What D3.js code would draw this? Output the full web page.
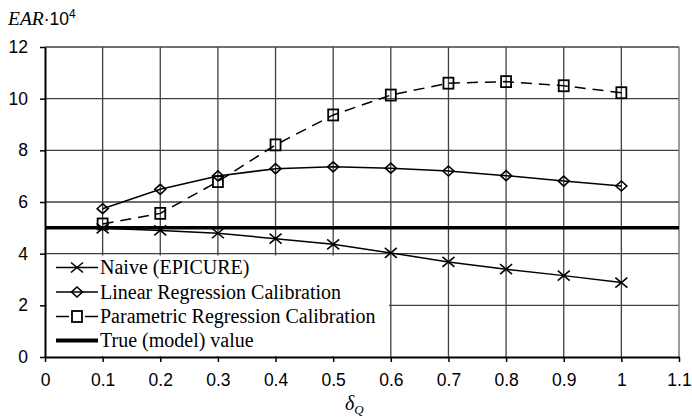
<!DOCTYPE html>
<html><head><meta charset="utf-8">
<script src="https://cdn.jsdelivr.net/npm/d3@7"></script>
<style>
body{margin:0;background:#fff}svg{display:block}
.serif{font-family:"Liberation Serif","Times New Roman","DejaVu Serif",serif}
.sans{font-family:"Liberation Sans",Arial,"DejaVu Sans",sans-serif}
</style>
</head><body><svg id="c" width="692" height="419"></svg>
<script>
const deltaQ = [0.1, 0.2, 0.3, 0.4, 0.5, 0.6, 0.7, 0.8, 0.9, 1.0];
const naive = [4.98, 4.90, 4.79, 4.58, 4.36, 4.03, 3.68, 3.40, 3.15, 2.88];
const linearRC = [5.74, 6.49, 7.01, 7.29, 7.36, 7.31, 7.20, 7.02, 6.81, 6.62];
const parametricRC = [5.15, 5.56, 6.79, 8.21, 9.37, 10.14, 10.60, 10.66, 10.50, 10.23];
const trueValue = 5;
const xTicks = [0, 0.1, 0.2, 0.3, 0.4, 0.5, 0.6, 0.7, 0.8, 0.9, 1, 1.1];
const yTicks = [0, 2, 4, 6, 8, 10, 12];
const seriesNames = ["Naive (EPICURE)", "Linear Regression Calibration", "Parametric Regression Calibration", "True (model) value"];

const svg = d3.select("#c");
const x = d3.scaleLinear().domain([0, 1.1]).range([45, 679]);
const y = d3.scaleLinear().domain([0, 12]).range([357, 47]);
const gridColor = "#404040";

// grid
const grid = svg.append("g");
grid.selectAll("line.h").data(yTicks.filter(d => d > 0)).join("line")
  .attr("x1", x(0)).attr("x2", x(1.1)).attr("y1", d => y(d)).attr("y2", d => y(d))
  .attr("stroke", gridColor).attr("stroke-width", 1.3);
grid.selectAll("line.v").data(xTicks.filter(d => d > 0)).join("line")
  .attr("x1", d => x(d)).attr("x2", d => x(d)).attr("y1", y(12)).attr("y2", y(0))
  .attr("stroke", d => d === 1.1 ? "#666" : gridColor).attr("stroke-width", 1.3);

// legend background (covers grid)
const lg = svg.append("g");
lg.append("rect").attr("x", 46.5).attr("y", 255.5).attr("width", 342.5).attr("height", 100.5).attr("fill", "#fff");

// axes
const fmt = d => String(d);
const xAxis = svg.append("g").attr("transform", `translate(0,${y(0)})`)
  .call(d3.axisBottom(x).tickValues(xTicks).tickFormat(fmt).tickSize(5).tickSizeOuter(0).tickPadding(12));
const yAxis = svg.append("g").attr("transform", `translate(${x(0)},0)`)
  .call(d3.axisLeft(y).tickValues(yTicks).tickFormat(fmt).tickSize(5).tickSizeOuter(0).tickPadding(12));
[xAxis, yAxis].forEach(a => {
  a.attr("font-family", null).attr("font-size", null);
  a.select(".domain").attr("stroke", "#000").attr("stroke-width", 2);
  a.selectAll(".tick line").attr("stroke", "#000").attr("stroke-width", 1.5);
  a.selectAll(".tick text").attr("class", "sans").style("font-size", "17.5px").attr("fill", "#000");
});

// series
const line = d3.line().x(d => x(d[0])).y(d => y(d[1]));
const zip = arr => deltaQ.map((d, i) => [d, arr[i]]);
const sw = 1.5;

svg.append("path").datum(zip(naive)).attr("d", line).attr("fill", "none").attr("stroke", "#000").attr("stroke-width", sw);
svg.append("path").datum(zip(linearRC)).attr("d", line).attr("fill", "none").attr("stroke", "#000").attr("stroke-width", sw);
svg.append("path").datum(zip(parametricRC)).attr("d", line).attr("fill", "none").attr("stroke", "#000").attr("stroke-width", sw).attr("stroke-dasharray", "11,7");
svg.append("line").attr("x1", x(0)).attr("x2", x(1.1)).attr("y1", y(trueValue)).attr("y2", y(trueValue))
  .attr("stroke", "#000").attr("stroke-width", 3.5);

function cross(g, cx, cy) {
  g.append("path").attr("d", `M${cx-6},${cy-5}L${cx+6},${cy+5}M${cx-6},${cy+5}L${cx+6},${cy-5}`)
    .attr("stroke", "#000").attr("stroke-width", 1.6).attr("fill", "none");
}
function diamond(g, cx, cy) {
  g.append("path").attr("d", `M${cx},${cy-5}L${cx+5.5},${cy}L${cx},${cy+5}L${cx-5.5},${cy}Z`)
    .attr("stroke", "#000").attr("stroke-width", 1.6).attr("fill", "none");
}
function square(g, cx, cy) {
  g.append("rect").attr("x", cx - 5).attr("y", cy - 5.5).attr("width", 10).attr("height", 11)
    .attr("stroke", "#000").attr("stroke-width", 1.8).attr("fill", "none");
}
const mk = svg.append("g");
zip(naive).forEach(d => cross(mk, x(d[0]), y(d[1])));
zip(linearRC).forEach(d => diamond(mk, x(d[0]), y(d[1])));
zip(parametricRC).forEach(d => square(mk, x(d[0]), y(d[1])));

// legend
const rows = [267.5, 292, 316.5, 340.5];
const lx1 = 56, lx2 = 98, lmx = 77;
seriesNames.forEach((name, i) => {
  const ry = rows[i];
  const l = lg.append("line").attr("x1", lx1).attr("x2", lx2).attr("y1", ry).attr("y2", ry).attr("stroke", "#000")
    .attr("stroke-width", i === 3 ? 4 : sw);
  if (i === 2) l.attr("stroke-dasharray", "13,16");
  if (i === 0) cross(lg, lmx, ry);
  if (i === 1) diamond(lg, lmx, ry);
  if (i === 2) square(lg, lmx, ry);
  lg.append("text").attr("class", "serif").attr("x", 100).attr("y", ry + 6.5).text(name)
    .style("font-size", "20px").attr("fill", "#000");
});

// y title
const t = svg.append("text").attr("x", 8).attr("y", 25).attr("fill", "#000");
t.append("tspan").attr("class", "serif").text("EAR").style("font-style", "italic").style("font-size", "19.5px");
t.append("tspan").attr("class", "sans").text("·10").style("font-size", "17.5px");
t.append("tspan").attr("class", "sans").text("4").style("font-size", "12px").attr("dy", -7);

// x title
const xt = svg.append("text").attr("class", "serif").attr("x", 345).attr("y", 410).attr("fill", "#000")
  .style("font-style", "italic");
xt.append("tspan").text("δ").style("font-size", "20px");
xt.append("tspan").text("Q").style("font-size", "13px").attr("dy", 4);
</script>
</body></html>
